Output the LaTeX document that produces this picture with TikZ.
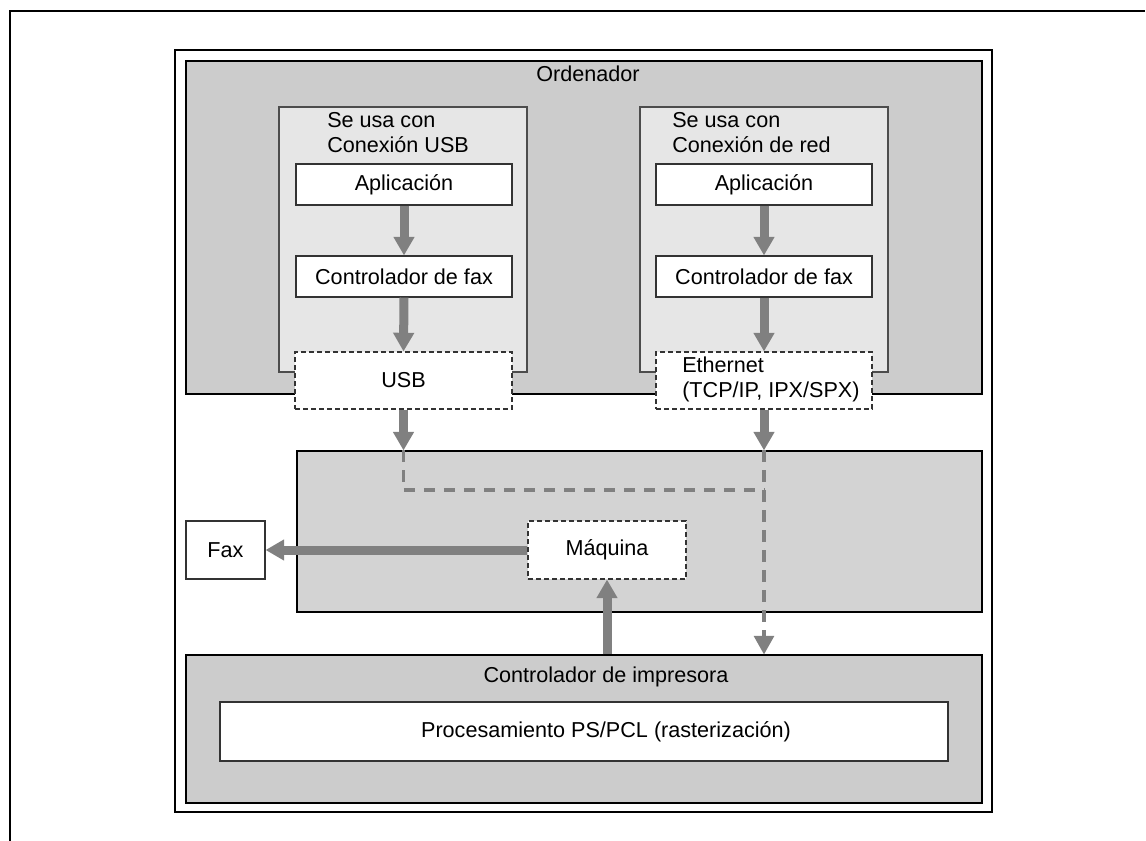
\documentclass[tikz,border=0pt]{standalone}
\usepackage{fontspec}
\setmainfont{Liberation Sans}
\usetikzlibrary{arrows.meta,fit}
\definecolor{gOrd}{HTML}{CCCCCC}
\definecolor{gMid}{HTML}{D3D3D3}
\definecolor{gLight}{HTML}{E6E6E6}
\definecolor{gArr}{HTML}{808080}
\tikzset{
  container/.style={draw=black, line width=0.8pt, fill=gOrd, inner sep=0pt},
  midbox/.style={draw=black, line width=0.8pt, fill=gMid, inner sep=0pt},
  lightbox/.style={draw=black!70, line width=0.8pt, fill=gLight, inner sep=0pt},
  wbox/.style={draw=black!80, line width=0.8pt, fill=white, inner sep=0pt},
  dbox/.style={wbox, dash pattern=on 3.6pt off 2.4pt},
  flow/.style={draw=gArr, line width=6.75pt, -{Triangle[length=14pt,width=15pt]}},
  dline/.style={draw=gArr, line width=2.4pt, dash pattern=on 8.5pt off 6.5pt},
  darrow/.style={dline, -{Triangle[length=14pt,width=15pt]}},
  lbl/.style={inner sep=0pt, anchor=base west},
  clbl/.style={inner sep=0pt, anchor=base}
}
\begin{document}
\begin{tikzpicture}[x=0.75pt,y=-0.75pt,font=\fontsize{16.2}{18.75}\selectfont]
\useasboundingbox (0,0) rectangle (1146,841);
% outer frame (top and left edges)
\draw[line width=1.5pt] (10,841) -- (10,11) -- (1145,11);
% inner frame
\draw[line width=0.9pt] (175,50) rectangle (992,812);

% Ordenador
\node[container, fit={(186,61) (982,394)}] (ord) {};
\node[clbl] (ordl) at (588,82) {Ordenador};
\node[lightbox, fit={(279,107) (527,372)}] (lb1) {};
\node[lightbox, fit={(640,107) (888,372)}] (lb2) {};
\node[lbl] (s1a) at (327,128) {Se usa con};
\node[lbl] (s1b) at (327,153) {Conexión USB};
\node[lbl] (s2a) at (672,128) {Se usa con};
\node[lbl] (s2b) at (672,153) {Conexión de red};
\node[wbox, fit={(296,164) (512,205)}, label=center:{Aplicación}] (app1) {};
\node[wbox, fit={(656,164) (872,205)}, label=center:{Aplicación}] (app2) {};
\node[wbox, fit={(296,256) (512,297)}, label=center:{Controlador de fax}] (cf1) {};
\node[wbox, fit={(656,256) (872,297)}, label=center:{Controlador de fax}] (cf2) {};
\node[dbox, fit={(295,352) (512,409)}, label=center:{USB}] (usb) {};
\node[dbox, fit={(656,352) (872,409)}] (eth) {};
\node[lbl] (eth1) at (682,373) {Ethernet};
\node[lbl] (eth2) at (682,398) {(TCP/IP, IPX/SPX)};

% machine
\node[midbox, fit={(297,451) (982,612)}] (mid) {};
\node[wbox, fit={(186,521) (265,579)}, label=center:{Fax}] (fax) {};
\node[dbox, fit={(528,521) (686,579)}, label=center:{Máquina}] (maq) {};

% printer controller
\node[container, fit={(186,655) (982,803)}] (prt) {};
\node[clbl] (prtl) at (606,682) {Controlador de impresora};
\node[wbox, fit={(220,702) (948,761)}] (proc) {};
\node[inner sep=0pt] (procl) at (606,731.5) {Procesamiento PS/PCL (rasterización)};

% flows
\draw[flow] (app1.south) -- (cf1.north);
\draw[flow] (cf1.south) -- (usb.north);
\draw[flow] (app2.south) -- (cf2.north);
\draw[flow] (cf2.south) -- (eth.north);
\draw[flow] (usb.south) -- (usb.south |- mid.north);
\draw[flow] (eth.south) -- (eth.south |- mid.north);
\coordinate (j) at (764,490);
\draw[dline] (usb.south |- mid.north) |- (j);
\draw[darrow] (eth.south |- mid.north) -- (eth.south |- prt.north);
\draw[flow] (maq.west) -- (fax.east);
\draw[flow] (maq.south |- prt.north) -- (maq.south);
\end{tikzpicture}
\end{document}
